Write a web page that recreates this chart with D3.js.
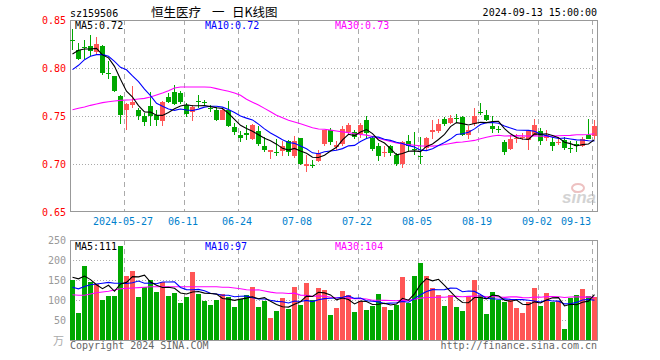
<!DOCTYPE html>
<html><head><meta charset="utf-8">
<script src="https://cdn.jsdelivr.net/npm/d3@7"></script>
<style>
html,body{margin:0;padding:0;background:#fff;}
svg{display:block;}
text{font-family:"DejaVu Sans Mono","Liberation Mono",monospace;font-size:10px;}
</style></head>
<body><svg id="c" width="660" height="360"></svg>
<script>
const dates = ["2024-05-14","2024-05-15","2024-05-16","2024-05-17","2024-05-20","2024-05-21","2024-05-22","2024-05-23","2024-05-24","2024-05-27","2024-05-28","2024-05-29","2024-05-30","2024-05-31",
"2024-06-03","2024-06-04","2024-06-05","2024-06-06","2024-06-07","2024-06-11","2024-06-12","2024-06-13","2024-06-14","2024-06-17","2024-06-18","2024-06-19","2024-06-20","2024-06-21","2024-06-24","2024-06-25","2024-06-26","2024-06-27","2024-06-28",
"2024-07-01","2024-07-02","2024-07-03","2024-07-04","2024-07-05","2024-07-08","2024-07-09","2024-07-10","2024-07-11","2024-07-12","2024-07-15","2024-07-16","2024-07-17","2024-07-18","2024-07-19","2024-07-22","2024-07-23","2024-07-24","2024-07-25","2024-07-26","2024-07-29","2024-07-30","2024-07-31",
"2024-08-01","2024-08-02","2024-08-05","2024-08-06","2024-08-07","2024-08-08","2024-08-09","2024-08-12","2024-08-13","2024-08-14","2024-08-15","2024-08-16","2024-08-19","2024-08-20","2024-08-21","2024-08-22","2024-08-23","2024-08-26","2024-08-27","2024-08-28","2024-08-29","2024-08-30",
"2024-09-02","2024-09-03","2024-09-04","2024-09-05","2024-09-06","2024-09-09","2024-09-10","2024-09-11","2024-09-12","2024-09-13"];

const open  = [0.8290,0.8190,0.8220,0.8226,0.8167,0.8233,0.7950,0.7913,0.7712,0.7559,0.7618,0.7566,0.7497,0.7608,0.7507,0.7444,0.7698,0.7747,0.7740,0.7618,0.7542,0.7654,0.7645,0.7585,0.7566,0.7462,0.7559,0.7382,0.7306,0.7323,
               0.7260,0.7347,0.7191,0.7122,0.7124,0.7132,0.7236,0.7087,0.7271,0.6976,0.6988,0.7028,0.7212,0.7358,0.7174,0.7212,0.7333,0.7333,0.7316,0.7462,0.7271,0.7191,0.7122,0.7184,0.7097,0.7003,0.7243,0.7152,0.7082,0.7167,
               0.7330,0.7347,0.7469,0.7427,0.7481,0.7490,0.7306,0.7420,0.7543,0.7514,0.7400,0.7360,0.7229,0.7156,0.7269,0.7280,0.7247,0.7306,0.7340,0.7271,0.7229,0.7227,0.7247,0.7169,0.7212,0.7184,0.7306,0.7288];
const high  = [0.8406,0.8260,0.8290,0.8347,0.8323,0.8243,0.8070,0.7915,0.7722,0.7635,0.7816,0.7583,0.7531,0.7747,0.7566,0.7653,0.7740,0.7826,0.7757,0.7635,0.7618,0.7715,0.7670,0.7618,0.7594,0.7583,0.7653,0.7427,0.7340,0.7410,
               0.7420,0.7400,0.7281,0.7149,0.7260,0.7236,0.7253,0.7288,0.7271,0.7097,0.7045,0.7142,0.7358,0.7375,0.7236,0.7400,0.7427,0.7358,0.7427,0.7497,0.7295,0.7219,0.7184,0.7201,0.7115,0.7236,0.7306,0.7330,0.7281,0.7281,
               0.7462,0.7472,0.7490,0.7514,0.7524,0.7497,0.7392,0.7583,0.7635,0.7559,0.7497,0.7400,0.7247,0.7306,0.7316,0.7323,0.7358,0.7472,0.7375,0.7358,0.7281,0.7281,0.7281,0.7236,0.7236,0.7281,0.7472,0.7455];
const low   = [0.8190,0.8087,0.8090,0.8120,0.8139,0.7930,0.7885,0.7747,0.7417,0.7351,0.7583,0.7462,0.7399,0.7399,0.7400,0.7399,0.7635,0.7611,0.7628,0.7490,0.7444,0.7583,0.7600,0.7538,0.7444,0.7455,0.7382,0.7306,0.7229,0.7253,
               0.7253,0.7184,0.7122,0.7052,0.7080,0.7080,0.7080,0.7062,0.6986,0.6913,0.6958,0.7017,0.7184,0.7201,0.7150,0.7191,0.7316,0.7260,0.7271,0.7260,0.7132,0.7028,0.7073,0.7080,0.6983,0.6958,0.7122,0.7097,0.7003,0.7150,
               0.7260,0.7323,0.7392,0.7417,0.7427,0.7295,0.7264,0.7400,0.7507,0.7444,0.7323,0.7323,0.7097,0.7150,0.7219,0.7253,0.7150,0.7288,0.7201,0.7236,0.7139,0.7201,0.7150,0.7115,0.7125,0.7177,0.7260,0.7260];
const close = [0.8288,0.8097,0.8210,0.8174,0.8253,0.7948,0.7945,0.7764,0.7507,0.7628,0.7646,0.7497,0.7434,0.7497,0.7462,0.7642,0.7649,0.7625,0.7642,0.7524,0.7594,0.7650,0.7640,0.7580,0.7462,0.7559,0.7392,0.7330,0.7271,0.7299,
               0.7410,0.7212,0.7149,0.7142,0.7120,0.7191,0.7122,0.7236,0.7003,0.7003,0.6985,0.7115,0.7351,0.7226,0.7194,0.7368,0.7410,0.7281,0.7410,0.7323,0.7156,0.7080,0.7126,0.7115,0.7003,0.7226,0.7191,0.7148,0.7078,0.7271,
               0.7358,0.7420,0.7420,0.7479,0.7477,0.7306,0.7351,0.7497,0.7540,0.7462,0.7365,0.7355,0.7125,0.7264,0.7273,0.7283,0.7340,0.7410,0.7236,0.7306,0.7191,0.7231,0.7167,0.7165,0.7184,0.7264,0.7264,0.7392];
const volume = [151,68,186,145,141,101,111,111,236,161,173,108,132,151,121,145,111,118,93,108,171,116,98,88,101,116,108,83,103,113,
                133,83,98,56,73,106,78,133,88,143,101,131,126,63,81,123,113,71,98,76,86,116,83,76,88,158,93,161,193,161,
                131,113,86,113,83,73,111,151,113,66,121,101,96,101,81,68,96,131,86,118,96,98,28,106,113,128,111,108];

// moving-average values for days whose window starts before the first shown day
const ma5Head  = [0.8146,0.8184,0.8198,0.8198];
const ma10Head = [0.7983,0.8028,0.8087,0.8122,0.8139,0.8139,0.8122,0.8069,0.8007];
const ma30Head = [0.7566,0.7580,0.7594,0.7611,0.7625,0.7639,0.7649,0.7656,0.7663,0.7667,0.7670,0.7677,0.7684,0.7698,0.7719,0.7740,0.7764,0.7792,0.7802,0.7802,0.7802,0.7802,0.7802,0.7799,0.7785,0.7771,0.7757,0.7740,0.7715];
const volMa5Head  = [157,153,160,151];
const volMa10Head = [132,128,134,138,140,142,144,142,142];
const volMa30Head = [113,112,112,115,118,120,122,125,128,129,130,131,132,133,133,133,133,133,133,133,133,133,133,133,133,132,132,130,128];

const priceTicks = [0.85,0.80,0.75,0.70,0.65];
const volTicks = [250,200,150,100,50];
const xTickDates = ["2024-05-27","2024-06-11","2024-06-24","2024-07-08","2024-07-22","2024-08-05","2024-08-19","2024-09-02","2024-09-13"];
const xTickLabels = ["2024-05-27","06-11","06-24","07-08","07-22","08-05","08-19","09-02","09-13"];
const priceLegend = [["MA5",0.72],["MA10",0.72],["MA30",0.73]];
const volLegend = [["MA5",111],["MA10",97],["MA30",104]];
const titleParts = ["恒生医疗","一","日K线图"];

function movingAvg(arr, n, head){
  return arr.map((_, i) => i < n-1 ? head[i] : d3.mean(arr.slice(i-n+1, i+1)));
}

const svg = d3.select("#c");
const L = 70, R = 598;
const x = d3.scaleBand().domain(dates).range([L-0.5, R-0.5]).paddingInner(1/6).paddingOuter(1/12);
const bw = x.bandwidth();
const yP = d3.scaleLinear().domain([0.65,0.85]).range([212,20]);
const yV = d3.scaleLinear().domain([0,250]).range([340,240]);
const UP = "#ff5555", DN = "#00a800", GRID = "#aaaaaa", FRAME = "#999999";
const idx = d3.range(dates.length);

// header
svg.append("text").attr("x",70).attr("y",17).attr("fill","#000").text("sz159506");
const titleX = [151,212,232];
titleParts.forEach((t,i)=>svg.append("text").attr("x",titleX[i]).attr("y",17).attr("fill","#000")
  .style("font-family",'"Noto Sans CJK SC",sans-serif').style("font-size","12.5px").text(t));
svg.append("text").attr("x",597).attr("y",16).attr("text-anchor","end").attr("fill","#000").text("2024-09-13 15:00:00");

function panel(y, top, bottom, ticks, fmt, labelColor, gridTicks){
  const g = svg.append("g");
  g.selectAll("line.h").data(gridTicks).join("line")
    .attr("x1",L).attr("x2",R-1).attr("y1",d=>Math.round(y(d))+0.5).attr("y2",d=>Math.round(y(d))+0.5)
    .attr("stroke",GRID).attr("stroke-dasharray","1,2");
  g.selectAll("line.v").data(xTickDates).join("line")
    .attr("x1",d=>x(d)+0.5).attr("x2",d=>x(d)+0.5).attr("y1",top).attr("y2",bottom)
    .attr("stroke",GRID).attr("stroke-dasharray","5,4");
  g.append("rect").attr("x",L+0.5).attr("y",top+0.5).attr("width",R-L-1).attr("height",bottom-top)
    .attr("fill","none").attr("stroke",FRAME).attr("stroke-width",1);
  svg.selectAll(null).data(ticks).join("text")
    .attr("x",66).attr("y",d=>y(d)+4).attr("text-anchor","end")
    .attr("fill",labelColor).text(fmt);
  return g;
}

panel(yP, 20, 211, priceTicks, d=>d.toFixed(2), "#ff0000", [0.80,0.75,0.70]);

// x labels
const nT = xTickDates.length;
svg.selectAll(null).data(xTickDates).join("text")
  .attr("x",d=> x(d)-1).attr("y",225)
  .attr("text-anchor",(d,i)=> i===nT-1 ? "end" : "middle")
  .attr("fill","#0080cc").text((d,i)=>xTickLabels[i]);

// sina logo watermark
const logo = svg.append("g").attr("opacity",0.55);
logo.append("text").attr("x",596).attr("y",203).attr("text-anchor","end")
  .style("font-family","Arial, 'Liberation Sans', sans-serif").style("font-size","17px")
  .style("font-weight","bold").style("font-style","italic").attr("fill","#b0b0b0").text("sina");
logo.append("ellipse").attr("cx",578).attr("cy",188).attr("rx",6).attr("ry",4).attr("fill","none").attr("stroke","#e09090").attr("stroke-width",2);

// candles
const cg = svg.append("g");
idx.forEach(i=>{
  const up = close[i] >= open[i];
  const col = up ? UP : DN;
  const x0 = x(dates[i]);
  const xc = Math.floor(x0 + bw/2);
  cg.append("rect").attr("x",xc).attr("width",1)
    .attr("y",Math.round(yP(high[i]))).attr("height",Math.max(1,Math.round(yP(low[i]))-Math.round(yP(high[i]))))
    .attr("fill",col);
  const t = Math.round(yP(Math.max(open[i],close[i]))), b = Math.round(yP(Math.min(open[i],close[i])));
  cg.append("rect").attr("x",x0).attr("width",bw).attr("y",t).attr("height",Math.max(1,b-t)).attr("fill",col);
});

function drawMA(vals, y, color){
  const line = d3.line().x((d,i)=>x(dates[i])+bw/2).y(d=>y(d));
  svg.append("path").datum(vals).attr("d",line).attr("fill","none").attr("stroke",color).attr("stroke-width",1.1);
}
drawMA(movingAvg(close,30,ma30Head), yP, "#ff00ff");
drawMA(movingAvg(close,10,ma10Head), yP, "#0000ff");
drawMA(movingAvg(close,5,ma5Head), yP, "#000000");

const legColors = ["#000000","#0000ff","#ff00ff"];
const legX = [75,205,335];
priceLegend.forEach((d,i)=>svg.append("text").attr("x",legX[i]).attr("y",29).attr("fill",legColors[i]).text(d[0]+":"+d[1].toFixed(2)));

// volume panel
panel(yV, 240, 340, volTicks, d=>d, "#999999", [200,150,100,50]);
svg.append("text").attr("x",64).attr("y",345).attr("text-anchor","end").attr("fill","#aaaaaa")
  .style("font-family",'"Noto Sans CJK SC",sans-serif').style("font-size","11px").text("万");
svg.selectAll("rect.vol").data(idx).join("rect").attr("class","vol")
  .attr("x",i=>x(dates[i])).attr("width",bw)
  .attr("y",i=>Math.round(yV(volume[i]))).attr("height",i=>340-Math.round(yV(volume[i])))
  .attr("fill",i=> close[i]>=open[i] ? UP : DN);
drawMA(movingAvg(volume,30,volMa30Head), yV, "#ff00ff");
drawMA(movingAvg(volume,10,volMa10Head), yV, "#0000ff");
drawMA(movingAvg(volume,5,volMa5Head), yV, "#000000");
volLegend.forEach((d,i)=>svg.append("text").attr("x",legX[i]).attr("y",250).attr("fill",legColors[i]).text(d[0]+":"+d[1]));

// footer
svg.append("text").attr("x",70).attr("y",349).attr("fill","#666666").text("Copyright 2024 SINA.COM");
svg.append("text").attr("x",597).attr("y",349).attr("text-anchor","end").attr("fill","#666666").text("http://finance.sina.com.cn");
</script></body></html>
